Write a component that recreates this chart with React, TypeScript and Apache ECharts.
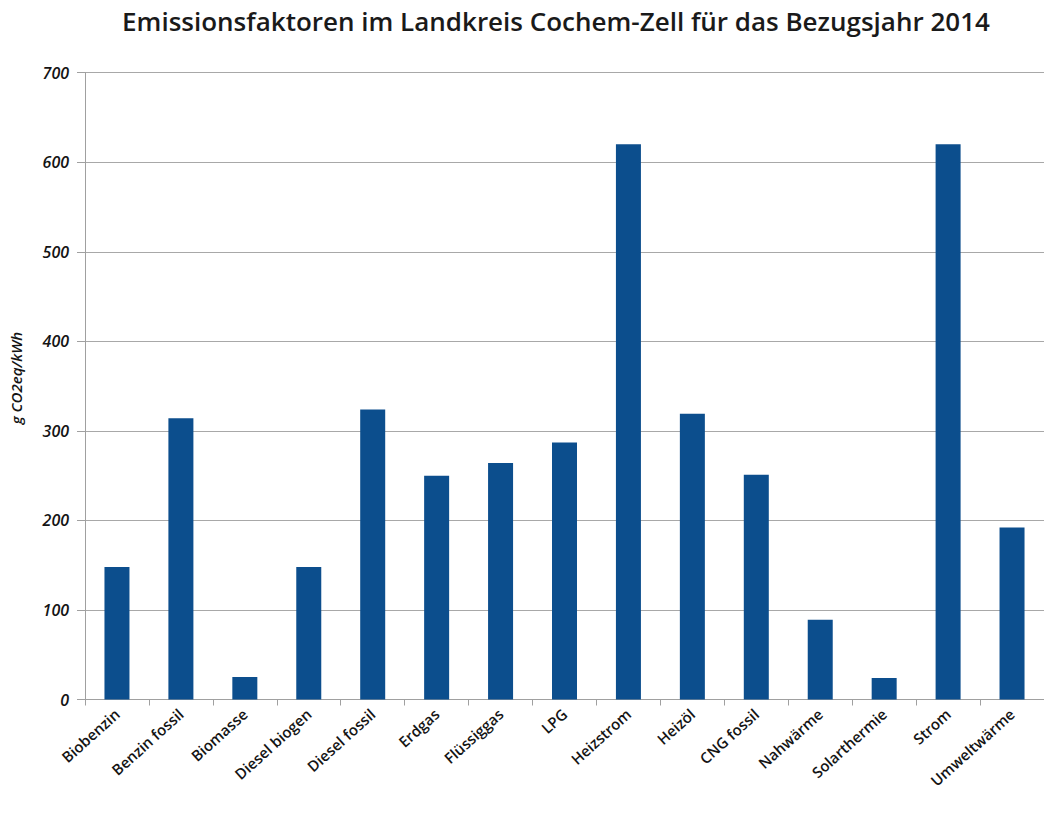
import React, { useEffect, useRef } from "react";
import * as echarts from "echarts";

const titleText = "Emissionsfaktoren im Landkreis Cochem-Zell für das Bezugsjahr 2014";
const yAxisName = "g CO2eq/kWh";
const categories = [
  "Biobenzin",
  "Benzin fossil",
  "Biomasse",
  "Diesel biogen",
  "Diesel fossil",
  "Erdgas",
  "Flüssiggas",
  "LPG",
  "Heizstrom",
  "Heizöl",
  "CNG fossil",
  "Nahwärme",
  "Solarthermie",
  "Strom",
  "Umweltwärme",
];
const values = [148, 314, 25, 148, 324, 250, 264, 287, 620, 319, 251, 89, 24, 620, 192];
const yMin = 0;
const yMax = 700;
const yInterval = 100;

export default function App() {
  const ref = useRef<HTMLDivElement>(null);
  useEffect(() => {
    document.body.style.margin = "0";
    document.body.style.overflow = "hidden";
    const chart = echarts.init(ref.current!, null, { renderer: "svg" });
    chart.setOption({
      animation: false,
      backgroundColor: "#ffffff",
      title: {
        text: titleText,
        left: 551,
        textAlign: "center",
        top: 3,
        textStyle: {
          fontFamily: "Open Sans",
          fontSize: 26,
          fontWeight: 600,
          color: "#1a1a1a",
        },
      },
      grid: {
        left: 84,
        top: 72.7,
        bottom: 114.5,
        width: 970,
        containLabel: false,
      },
      xAxis: {
        type: "category",
        data: categories,
        axisLine: { show: true, lineStyle: { color: "#a0a0a0", width: 1 } },
        axisTick: { show: true, alignWithLabel: false, length: 6, lineStyle: { color: "#a0a0a0" } },
        axisLabel: {
          interval: 0,
          rotate: 42,
          margin: 12,
          fontFamily: "Open Sans",
          fontSize: 15,
          fontWeight: 600,
          color: "#141414",
        },
      },
      yAxis: {
        type: "value",
        min: yMin,
        max: yMax,
        interval: yInterval,
        name: yAxisName,
        nameLocation: "middle",
        nameGap: 62,
        nameTextStyle: {
          fontFamily: "Open Sans",
          fontSize: 15,
          fontStyle: "italic",
          fontWeight: 600,
          color: "#141414",
          padding: [0, 0, 0, 16],
        },
        axisLine: { show: true, lineStyle: { color: "#a0a0a0", width: 1 } },
        axisTick: { show: true, length: 8, inside: false, lineStyle: { color: "#a0a0a0" } },
        axisLabel: {
          margin: 16,
          fontFamily: "Open Sans",
          fontSize: 16,
          fontStyle: "italic",
          fontWeight: 600,
          color: "#141414",
        },
        splitLine: { show: true, lineStyle: { color: "#a8a8a8", width: 1 } },
      },
      series: [
        {
          type: "bar",
          data: values,
          barWidth: 25,
          itemStyle: { color: "#0c4e8d" },
        },
      ],
    });
    return () => chart.dispose();
  }, []);
  return <div ref={ref} style={{ width: 1044, height: 814 }} />;
}
